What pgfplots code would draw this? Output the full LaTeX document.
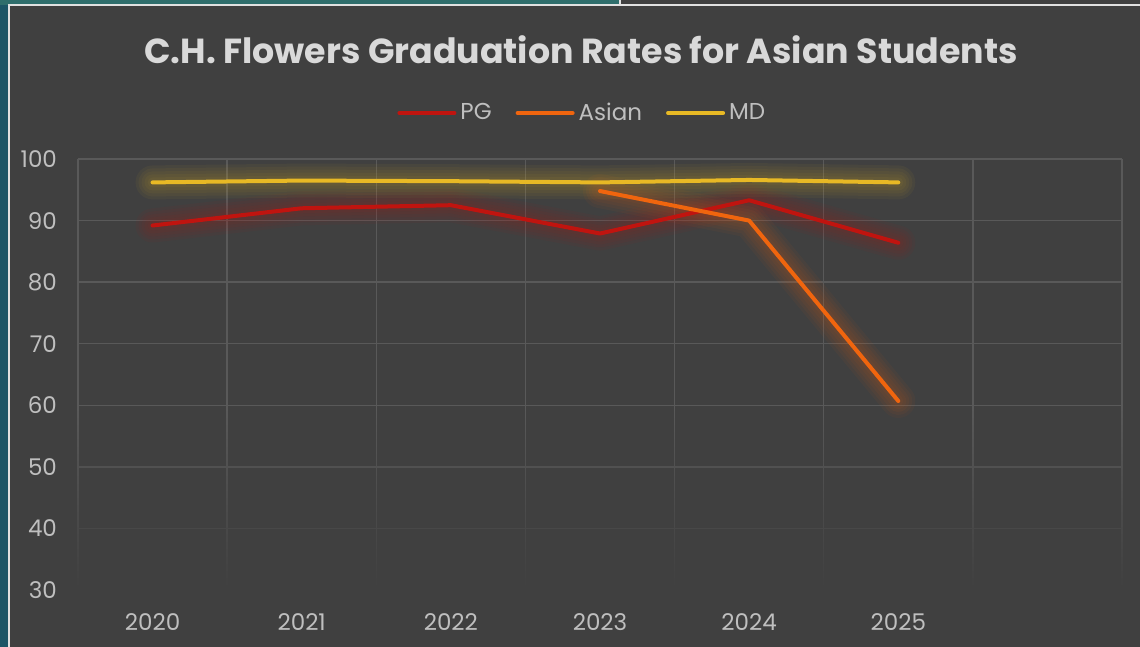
\documentclass[border=0pt]{standalone}
\usepackage{pgfplots}
\pgfplotsset{compat=1.18}
\usetikzlibrary{fadings}
\usepackage{fontspec}
\setmainfont{Poppins}
\definecolor{bgc}{HTML}{404040}
\definecolor{gridc}{HTML}{595959}
\definecolor{tickc}{HTML}{BFBFBF}
\definecolor{titlec}{HTML}{D9D9D9}
\definecolor{tealA}{HTML}{1C5566}
\definecolor{tealB}{HTML}{2F6E6C}
\definecolor{pgc}{HTML}{C0140F}
\definecolor{asianc}{HTML}{F0650E}
\definecolor{mdc}{HTML}{E8B925}

\pgfplotstableread{
x  pg    md
0  89.2  96.2
1  92.0  96.5
2  92.5  96.4
3  87.9  96.2
4  93.3  96.6
5  86.4  96.2
}\mainrates
\pgfplotstableread{
x  asian
3  94.8
4  90.0
5  60.7
}\asianrates

\begin{document}
\begin{tikzpicture}
% slide background and chart panel (1px = 0.5pt)
\useasboundingbox (0,0) rectangle (570pt,-323.5pt);
\fill[tealA] (0,0) rectangle (570pt,-323.5pt);
\fill[tealB] (0,0) rectangle (310pt,-2.5pt);
\fill[bgc] (310pt,0) rectangle (570pt,-2.5pt);
\fill[bgc] (4.5pt,-2.5pt) rectangle (570pt,-323.5pt);
\draw[titlec!80, line width=0.8pt] (4.5pt,-323.5pt) -- (4.5pt,-2.5pt) -- (570pt,-2.5pt);
\draw[titlec!80, line width=0.6pt] (310pt,0) -- (310pt,-2.5pt);

\node[font=\bfseries\fontsize{17.4}{21}\selectfont, text=titlec] at (290.5pt,-25pt)
  {C.H. Flowers Graduation Rates for Asian Students};

\begin{axis}[
    at={(39pt,-295pt)}, anchor=south west,
    scale only axis, width=522pt, height=215.5pt,
    xmin=-0.5, xmax=6.5, ymin=30, ymax=100,
    xtick={0,1,2,3,4,5},
    xticklabels={2020,2021,2022,2023,2024,2025},
    minor xtick={-0.5,0.5,1.5,2.5,3.5,4.5,5.5,6.5},
    ytick={30,40,50,60,70,80,90,100},
    axis line style={draw=none},
    major tick length=0pt, minor tick length=0pt,
    ymajorgrids=true, xminorgrids=true,
    grid style={gridc, line width=0.75pt},
    minor grid style={gridc, line width=0.75pt},
    tick label style={font=\fontsize{11.5}{14}\selectfont, text=tickc},
    yticklabel style={anchor=east, xshift=-7pt},
    xticklabel style={yshift=-8pt},
    /pgf/number format/assume math mode=true,
    legend columns=3,
    legend style={draw=none, fill=none, at={(rel axis cs:0.484,1)}, anchor=center,
        yshift=23pt, font=\fontsize{11.5}{14}\selectfont, text=tickc,
        /tikz/every even column/.append style={column sep=10pt}},
    legend image code/.code={\draw[#1] (0pt,0pt) -- (27.5pt,0pt);},
    every axis plot/.append style={line join=round, line cap=round},
    glow/.style={forget plot, line width=#1, opacity=0.05},
]
% soft glow under each line, built from a few wide translucent strokes
\pgfplotsinvokeforeach{17pt,14pt,11pt,8pt,5pt}{
  \addplot[glow=#1, pgc] table[x=x, y=pg] {\mainrates};
  \addplot[glow=#1, asianc] table[x=x, y=asian] {\asianrates};
  \addplot[glow=#1, mdc] table[x=x, y=md] {\mainrates};
}
% series
\addplot[pgc, line width=2pt, no markers] table[x=x, y=pg] {\mainrates};
\addlegendentry{PG}
\addplot[asianc, line width=2pt, no markers] table[x=x, y=asian] {\asianrates};
\addlegendentry{Asian}
\addplot[mdc, line width=2pt, no markers] table[x=x, y=md] {\mainrates};
\addlegendentry{MD}
\end{axis}
% gridlines fade out toward the bottom of the plot area
\fill[bgc, path fading=north] (38pt,-296pt) rectangle (562pt,-205pt);
\end{tikzpicture}
\end{document}
